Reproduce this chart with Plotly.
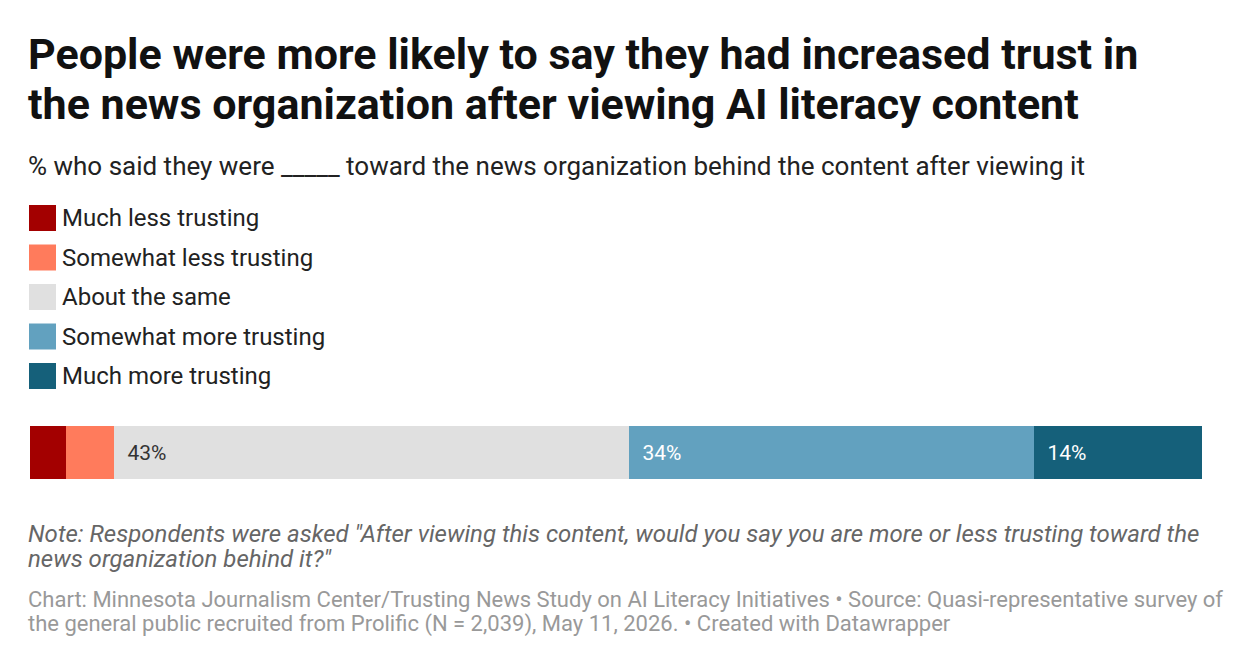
import plotly.graph_objects as go

categories = ["Much less trusting", "Somewhat less trusting", "About the same",
              "Somewhat more trusting", "Much more trusting"]
values = [3.1, 4.1, 43.9, 34.6, 14.3]
labels = ["", "", "43%", "34%", "14%"]
colors = ["#a30000", "#ff7b5c", "#e0e0e0", "#62a1bf", "#15607a"]
text_colors = ["#fff", "#fff", "#333", "#fff", "#fff"]

W, H = 1240, 650
fig = go.Figure()
for c, v, l, col, tc in zip(categories, values, labels, colors, text_colors):
    fig.add_trace(go.Bar(x=[v], y=[""], orientation="h", marker=dict(color=col, line=dict(width=0)),
                         text=["  " + l if l else ""], textposition="inside", insidetextanchor="start",
                         textfont=dict(color=tc, size=21, family="Roboto"),
                         name=c, showlegend=False, hoverinfo="skip"))

def py(p):
    return 1 - p / H

fig.update_layout(
    width=W, height=H, barmode="stack", bargap=0,
    margin=dict(l=0, r=0, t=0, b=0),
    paper_bgcolor="white", plot_bgcolor="white",
    font=dict(family="Roboto"),
    xaxis=dict(range=[0, sum(values)], visible=False, fixedrange=True, domain=[22 / W, 1194 / W]),
    yaxis=dict(domain=[py(471), py(418)], visible=False, range=[-0.5, 0.5]),
    uniformtext=dict(minsize=10),
)

ann = []
def txt(t, y, size, color, bold=False, italic=False):
    if bold: t = "<b>" + t + "</b>"
    if italic: t = "<i>" + t + "</i>"
    ann.append(dict(text=t, x=18 / W, y=py(y), xref="paper", yref="paper", xanchor="left",
                    yanchor="middle", showarrow=False, align="left",
                    font=dict(size=size, color=color, family="Roboto")))

txt("People were more likely to say they had increased trust in", 46, 43, "#111", bold=True)
txt("the news organization after viewing AI literacy content", 96, 43, "#111", bold=True)
txt("% who said they were _____ toward the news organization behind the content after viewing it", 158, 26, "#222")
for i, (c, col) in enumerate(zip(categories, colors)):
    yc = 210 + i * 39.5
    fig.add_shape(type="rect", xref="paper", yref="paper", x0=21 / W, x1=48 / W,
                  y0=py(yc + 13), y1=py(yc - 13), fillcolor=col, line=dict(width=0))
    ann.append(dict(text=c, x=52 / W, y=py(yc), xref="paper", yref="paper", xanchor="left",
                    yanchor="middle", showarrow=False, font=dict(size=24, color="#222", family="Roboto")))
txt('Note: Respondents were asked "After viewing this content, would you say you are more or less trusting toward the', 526, 24, "#666", italic=True)
txt('news organization behind it?"', 551, 24, "#666", italic=True)
txt("Chart: Minnesota Journalism Center/Trusting News Study on AI Literacy Initiatives • Source: Quasi-representative survey of", 591, 22, "#999")
txt("the general public recruited from Prolific (N = 2,039), May 11, 2026. • Created with Datawrapper", 616, 22, "#999")
fig.update_layout(annotations=ann)
fig.write_html("out.html")
